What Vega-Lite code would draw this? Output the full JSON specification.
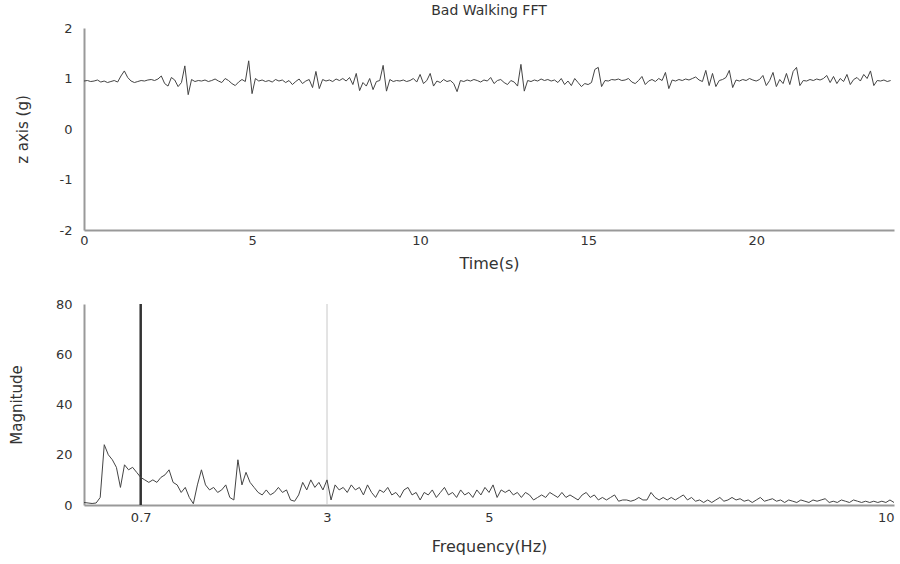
{
"$schema": "https://vega.github.io/schema/vega-lite/v6.json",
"background": "white",
"padding": {"left": 9, "top": 4, "right": 0, "bottom": 5},
"spacing": 27,
"config": {
"font": "DejaVu Sans",
"view": {"stroke": null},
"axis": {"grid": false, "domainColor": "#999", "domainWidth": 2, "ticks": false, "labelColor": "#333", "labelFont": "DejaVu Sans", "labelFontSize": 13, "titleColor": "#333", "titleFont": "DejaVu Sans", "titleFontSize": 16, "titleFontWeight": "normal", "labelOverlap": false, "labelBound": false, "labelFlush": false},
"title": {"fontSize": 14, "fontWeight": "normal", "color": "#333", "font": "DejaVu Sans"}
},
"datasets": {
"ts": [
{"t":0.0,"z":0.95},{"t":0.1,"z":0.96},{"t":0.2,"z":0.94},{"t":0.3,"z":0.95},{"t":0.4,"z":0.97},{"t":0.5,"z":0.93},{"t":0.6,"z":0.95},{"t":0.7,"z":0.92},{"t":0.8,"z":0.94},{"t":0.9,"z":0.96},
{"t":1.0,"z":0.93},{"t":1.1,"z":1.05},{"t":1.2,"z":1.15},{"t":1.3,"z":1.02},{"t":1.4,"z":0.95},{"t":1.5,"z":0.92},{"t":1.6,"z":0.94},{"t":1.7,"z":0.96},{"t":1.8,"z":0.95},{"t":1.9,"z":0.97},
{"t":2.0,"z":0.98},{"t":2.1,"z":0.96},{"t":2.2,"z":0.99},{"t":2.3,"z":1.05},{"t":2.4,"z":0.90},{"t":2.5,"z":0.85},{"t":2.6,"z":1.02},{"t":2.7,"z":0.97},{"t":2.8,"z":0.84},{"t":2.9,"z":0.92},
{"t":3.0,"z":1.25},{"t":3.1,"z":0.68},{"t":3.2,"z":0.98},{"t":3.3,"z":0.94},{"t":3.4,"z":0.96},{"t":3.5,"z":0.95},{"t":3.6,"z":0.97},{"t":3.7,"z":0.94},{"t":3.8,"z":0.96},{"t":3.9,"z":0.99},
{"t":4.0,"z":0.95},{"t":4.1,"z":0.92},{"t":4.2,"z":1.00},{"t":4.3,"z":0.96},{"t":4.4,"z":0.90},{"t":4.5,"z":0.86},{"t":4.6,"z":0.93},{"t":4.7,"z":0.98},{"t":4.8,"z":0.94},{"t":4.9,"z":1.35},
{"t":5.0,"z":0.70},{"t":5.1,"z":1.00},{"t":5.2,"z":0.95},{"t":5.3,"z":0.97},{"t":5.4,"z":0.94},{"t":5.5,"z":0.96},{"t":5.6,"z":0.93},{"t":5.7,"z":0.98},{"t":5.8,"z":0.95},{"t":5.9,"z":0.97},
{"t":6.0,"z":0.92},{"t":6.1,"z":0.96},{"t":6.2,"z":0.88},{"t":6.3,"z":0.94},{"t":6.4,"z":0.99},{"t":6.5,"z":0.90},{"t":6.6,"z":0.95},{"t":6.7,"z":0.98},{"t":6.8,"z":0.82},{"t":6.9,"z":1.14},
{"t":7.0,"z":0.80},{"t":7.1,"z":0.98},{"t":7.2,"z":0.95},{"t":7.3,"z":0.97},{"t":7.4,"z":0.94},{"t":7.5,"z":0.99},{"t":7.6,"z":0.96},{"t":7.7,"z":1.00},{"t":7.8,"z":0.95},{"t":7.9,"z":1.02},
{"t":8.0,"z":0.88},{"t":8.1,"z":1.10},{"t":8.2,"z":0.76},{"t":8.3,"z":0.92},{"t":8.4,"z":0.85},{"t":8.5,"z":1.00},{"t":8.6,"z":0.78},{"t":8.7,"z":0.94},{"t":8.8,"z":0.96},{"t":8.9,"z":1.26},
{"t":9.0,"z":0.75},{"t":9.1,"z":0.98},{"t":9.2,"z":0.94},{"t":9.3,"z":0.96},{"t":9.4,"z":0.95},{"t":9.5,"z":0.97},{"t":9.6,"z":0.94},{"t":9.7,"z":0.96},{"t":9.8,"z":1.00},{"t":9.9,"z":0.93},
{"t":10.0,"z":1.08},{"t":10.1,"z":0.90},{"t":10.2,"z":0.96},{"t":10.3,"z":1.10},{"t":10.4,"z":0.85},{"t":10.5,"z":0.95},{"t":10.6,"z":0.92},{"t":10.7,"z":0.98},{"t":10.8,"z":0.94},{"t":10.9,"z":0.96},
{"t":11.0,"z":0.90},{"t":11.1,"z":0.74},{"t":11.2,"z":0.96},{"t":11.3,"z":0.94},{"t":11.4,"z":0.97},{"t":11.5,"z":0.95},{"t":11.6,"z":0.98},{"t":11.7,"z":0.96},{"t":11.8,"z":0.93},{"t":11.9,"z":0.97},
{"t":12.0,"z":0.95},{"t":12.1,"z":1.02},{"t":12.2,"z":0.90},{"t":12.3,"z":0.96},{"t":12.4,"z":0.98},{"t":12.5,"z":0.92},{"t":12.6,"z":0.88},{"t":12.7,"z":0.96},{"t":12.8,"z":0.93},{"t":12.9,"z":0.85},
{"t":13.0,"z":1.28},{"t":13.1,"z":0.75},{"t":13.2,"z":0.96},{"t":13.3,"z":0.94},{"t":13.4,"z":0.97},{"t":13.5,"z":0.95},{"t":13.6,"z":0.99},{"t":13.7,"z":0.96},{"t":13.8,"z":0.98},{"t":13.9,"z":0.95},
{"t":14.0,"z":0.97},{"t":14.1,"z":0.92},{"t":14.2,"z":1.00},{"t":14.3,"z":0.88},{"t":14.4,"z":0.95},{"t":14.5,"z":0.86},{"t":14.6,"z":1.00},{"t":14.7,"z":0.92},{"t":14.8,"z":0.84},{"t":14.9,"z":0.90},
{"t":15.0,"z":0.88},{"t":15.1,"z":0.92},{"t":15.2,"z":1.18},{"t":15.3,"z":1.22},{"t":15.4,"z":0.84},{"t":15.5,"z":0.96},{"t":15.6,"z":0.95},{"t":15.7,"z":0.98},{"t":15.8,"z":0.97},{"t":15.9,"z":0.99},
{"t":16.0,"z":0.96},{"t":16.1,"z":0.97},{"t":16.2,"z":1.00},{"t":16.3,"z":0.93},{"t":16.4,"z":0.90},{"t":16.5,"z":0.96},{"t":16.6,"z":1.04},{"t":16.7,"z":0.88},{"t":16.8,"z":0.95},{"t":16.9,"z":0.98},
{"t":17.0,"z":0.94},{"t":17.1,"z":1.00},{"t":17.2,"z":0.96},{"t":17.3,"z":1.12},{"t":17.4,"z":0.80},{"t":17.5,"z":0.97},{"t":17.6,"z":0.95},{"t":17.7,"z":0.98},{"t":17.8,"z":0.96},{"t":17.9,"z":0.99},
{"t":18.0,"z":0.97},{"t":18.1,"z":1.00},{"t":18.2,"z":1.03},{"t":18.3,"z":0.97},{"t":18.4,"z":0.94},{"t":18.5,"z":1.16},{"t":18.6,"z":0.86},{"t":18.7,"z":1.10},{"t":18.8,"z":0.84},{"t":18.9,"z":0.96},
{"t":19.0,"z":0.98},{"t":19.1,"z":1.02},{"t":19.2,"z":1.16},{"t":19.3,"z":0.82},{"t":19.4,"z":0.97},{"t":19.5,"z":0.95},{"t":19.6,"z":0.98},{"t":19.7,"z":0.96},{"t":19.8,"z":1.00},{"t":19.9,"z":0.97},
{"t":20.0,"z":0.95},{"t":20.1,"z":0.98},{"t":20.2,"z":1.06},{"t":20.3,"z":0.86},{"t":20.4,"z":0.96},{"t":20.5,"z":1.12},{"t":20.6,"z":0.84},{"t":20.7,"z":0.98},{"t":20.8,"z":0.90},{"t":20.9,"z":1.10},
{"t":21.0,"z":0.88},{"t":21.1,"z":1.14},{"t":21.2,"z":1.22},{"t":21.3,"z":0.86},{"t":21.4,"z":0.96},{"t":21.5,"z":0.95},{"t":21.6,"z":0.98},{"t":21.7,"z":0.96},{"t":21.8,"z":0.99},{"t":21.9,"z":0.97},
{"t":22.0,"z":1.00},{"t":22.1,"z":1.06},{"t":22.2,"z":0.92},{"t":22.3,"z":1.04},{"t":22.4,"z":0.90},{"t":22.5,"z":1.00},{"t":22.6,"z":0.94},{"t":22.7,"z":1.08},{"t":22.8,"z":0.88},{"t":22.9,"z":0.98},
{"t":23.0,"z":1.02},{"t":23.1,"z":0.95},{"t":23.2,"z":1.08},{"t":23.3,"z":1.00},{"t":23.4,"z":1.15},{"t":23.5,"z":0.86},{"t":23.6,"z":0.96},{"t":23.7,"z":0.95},{"t":23.8,"z":0.97},{"t":23.9,"z":0.94},
{"t":24.0,"z":0.96}
],
"fft": [
{"f":0.00,"m":1},{"f":0.05,"m":0.8},{"f":0.10,"m":0.6},{"f":0.15,"m":0.8},{"f":0.20,"m":3},{"f":0.25,"m":24},{"f":0.30,"m":20},{"f":0.35,"m":18},{"f":0.40,"m":15},{"f":0.45,"m":7},
{"f":0.50,"m":16},{"f":0.55,"m":14},{"f":0.60,"m":15},{"f":0.65,"m":13},{"f":0.70,"m":11},{"f":0.75,"m":10},{"f":0.80,"m":9},{"f":0.85,"m":10},{"f":0.90,"m":9},{"f":0.95,"m":11},
{"f":1.00,"m":12},{"f":1.05,"m":14},{"f":1.10,"m":9},{"f":1.15,"m":8},{"f":1.20,"m":5},{"f":1.25,"m":7},{"f":1.30,"m":3},{"f":1.35,"m":0.5},{"f":1.40,"m":8},{"f":1.45,"m":14},
{"f":1.50,"m":8},{"f":1.55,"m":6},{"f":1.60,"m":7},{"f":1.65,"m":5},{"f":1.70,"m":6},{"f":1.75,"m":8},{"f":1.80,"m":3},{"f":1.85,"m":2},{"f":1.90,"m":18},{"f":1.95,"m":8},
{"f":2.00,"m":13},{"f":2.05,"m":9},{"f":2.10,"m":7},{"f":2.15,"m":5},{"f":2.20,"m":4},{"f":2.25,"m":6},{"f":2.30,"m":4},{"f":2.35,"m":5},{"f":2.40,"m":7},{"f":2.45,"m":5},
{"f":2.50,"m":6},{"f":2.55,"m":2},{"f":2.60,"m":1.5},{"f":2.65,"m":4},{"f":2.70,"m":9},{"f":2.75,"m":6},{"f":2.80,"m":10},{"f":2.85,"m":7},{"f":2.90,"m":9},{"f":2.95,"m":6},
{"f":3.00,"m":10},{"f":3.05,"m":2},{"f":3.10,"m":8},{"f":3.15,"m":6},{"f":3.20,"m":7},{"f":3.25,"m":5},{"f":3.30,"m":8},{"f":3.35,"m":6},{"f":3.40,"m":7},{"f":3.45,"m":4},
{"f":3.50,"m":8},{"f":3.55,"m":5},{"f":3.60,"m":3},{"f":3.65,"m":6},{"f":3.70,"m":5},{"f":3.75,"m":7},{"f":3.80,"m":4},{"f":3.85,"m":5},{"f":3.90,"m":3},{"f":3.95,"m":6},
{"f":4.00,"m":7},{"f":4.05,"m":4},{"f":4.10,"m":5},{"f":4.15,"m":2},{"f":4.20,"m":5},{"f":4.25,"m":4},{"f":4.30,"m":6},{"f":4.35,"m":3},{"f":4.40,"m":5},{"f":4.45,"m":7},
{"f":4.50,"m":4},{"f":4.55,"m":5},{"f":4.60,"m":3},{"f":4.65,"m":6},{"f":4.70,"m":4},{"f":4.75,"m":5},{"f":4.80,"m":3},{"f":4.85,"m":6},{"f":4.90,"m":4},{"f":4.95,"m":7},
{"f":5.00,"m":5},{"f":5.05,"m":8},{"f":5.10,"m":3},{"f":5.15,"m":6},{"f":5.20,"m":5},{"f":5.25,"m":6},{"f":5.30,"m":4},{"f":5.35,"m":5},{"f":5.40,"m":3},{"f":5.45,"m":5},
{"f":5.50,"m":4},{"f":5.55,"m":2},{"f":5.60,"m":3},{"f":5.65,"m":4},{"f":5.70,"m":3},{"f":5.75,"m":5},{"f":5.80,"m":4},{"f":5.85,"m":3},{"f":5.90,"m":5},{"f":5.95,"m":3},
{"f":6.00,"m":4},{"f":6.05,"m":3},{"f":6.10,"m":2},{"f":6.15,"m":4},{"f":6.20,"m":5},{"f":6.25,"m":3},{"f":6.30,"m":4},{"f":6.35,"m":2},{"f":6.40,"m":3},{"f":6.45,"m":2},
{"f":6.50,"m":3},{"f":6.55,"m":4},{"f":6.60,"m":1.5},{"f":6.65,"m":2},{"f":6.70,"m":2},{"f":6.75,"m":1.5},{"f":6.80,"m":2},{"f":6.85,"m":3},{"f":6.90,"m":2},{"f":6.95,"m":2},
{"f":7.00,"m":5},{"f":7.05,"m":3},{"f":7.10,"m":2},{"f":7.15,"m":3},{"f":7.20,"m":2},{"f":7.25,"m":3},{"f":7.30,"m":2},{"f":7.35,"m":3},{"f":7.40,"m":4},{"f":7.45,"m":2},
{"f":7.50,"m":3},{"f":7.55,"m":1.5},{"f":7.60,"m":2},{"f":7.65,"m":1},{"f":7.70,"m":2},{"f":7.75,"m":1},{"f":7.80,"m":2},{"f":7.85,"m":3},{"f":7.90,"m":1.5},{"f":7.95,"m":2},
{"f":8.00,"m":3},{"f":8.05,"m":2},{"f":8.10,"m":2.5},{"f":8.15,"m":1.5},{"f":8.20,"m":2},{"f":8.25,"m":1},{"f":8.30,"m":2},{"f":8.35,"m":3},{"f":8.40,"m":1.5},{"f":8.45,"m":2},
{"f":8.50,"m":2.5},{"f":8.55,"m":1.5},{"f":8.60,"m":2},{"f":8.65,"m":1},{"f":8.70,"m":2},{"f":8.75,"m":1.5},{"f":8.80,"m":1},{"f":8.85,"m":2},{"f":8.90,"m":1.5},{"f":8.95,"m":1},
{"f":9.00,"m":2},{"f":9.05,"m":1.5},{"f":9.10,"m":2},{"f":9.15,"m":2.5},{"f":9.20,"m":1},{"f":9.25,"m":1.5},{"f":9.30,"m":1},{"f":9.35,"m":2},{"f":9.40,"m":1.5},{"f":9.45,"m":1},
{"f":9.50,"m":2},{"f":9.55,"m":1.5},{"f":9.60,"m":1},{"f":9.65,"m":1.5},{"f":9.70,"m":1},{"f":9.75,"m":1.5},{"f":9.80,"m":1},{"f":9.85,"m":1.5},{"f":9.90,"m":1},{"f":9.95,"m":2},
{"f":10.00,"m":1}
],
"marks": [{"f":0.7,"kind":"a"},{"f":3,"kind":"b"}]
},
"vconcat": [
{
"title": {"text": "Bad Walking FFT", "anchor": "middle", "offset": 4},
"width": 810,
"height": 202,
"data": {"name": "ts"},
"mark": {"type": "line", "color": "#444", "strokeWidth": 1},
"encoding": {
"x": {"field": "t", "type": "quantitative", "title": "Time(s)", "scale": {"domain": [0, 24.1], "nice": false}, "axis": {"values": [0, 5, 10, 15, 20], "labelPadding": 4, "titlePadding": 8}},
"y": {"field": "z", "type": "quantitative", "title": "z axis (g)", "scale": {"domain": [-2, 2], "nice": false}, "axis": {"values": [-2, -1, 0, 1, 2], "labelExpr": "'' + datum.value", "labelPadding": 12, "titleFontSize": 15, "titlePadding": 29}}
}
},
{
"width": 810,
"height": 201,
"layer": [
{
"data": {"name": "marks"},
"transform": [{"filter": "datum.kind == 'b'"}],
"mark": {"type": "rule", "color": "#c8c8c8", "strokeWidth": 1},
"encoding": {"x": {"field": "f", "type": "quantitative"}}
},
{
"data": {"name": "marks"},
"transform": [{"filter": "datum.kind == 'a'"}],
"mark": {"type": "rule", "color": "#333", "strokeWidth": 2.5},
"encoding": {"x": {"field": "f", "type": "quantitative"}}
},
{
"data": {"name": "fft"},
"mark": {"type": "line", "color": "#444", "strokeWidth": 1},
"encoding": {
"x": {"field": "f", "type": "quantitative", "title": "Frequency(Hz)", "scale": {"domain": [0, 10], "nice": false}, "axis": {"values": [0.7, 3, 5, 10], "format": "~g", "labelFlush": true, "labelPadding": 6, "titlePadding": 14}},
"y": {"field": "m", "type": "quantitative", "title": "Magnitude", "scale": {"domain": [0, 80], "nice": false}, "axis": {"values": [0, 20, 40, 60, 80], "labelPadding": 12, "titleFontSize": 15, "titlePadding": 31}}
}
}
]
}
]
}
